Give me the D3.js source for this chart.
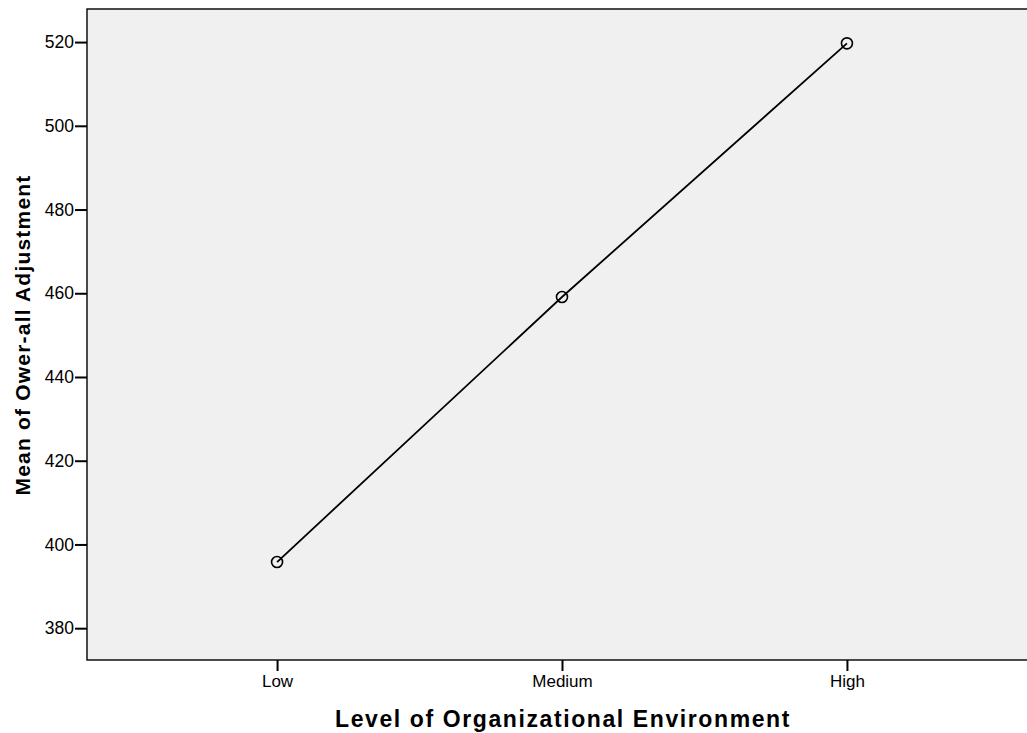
<!DOCTYPE html>
<html>
<head>
<meta charset="utf-8">
<script src="https://cdn.jsdelivr.net/npm/d3@7"></script>
<style>
  body { margin: 0; background: #fff; }
  svg { display: block; font-family: "Liberation Sans", Arial, sans-serif; }
</style>
</head>
<body>
<div id="chart"></div>
<script>
// data
var levels = ["Low", "Medium", "High"];
var means = [395.8, 459.1, 519.7];
var yTicks = [380, 400, 420, 440, 460, 480, 500, 520];

var W = 1027, H = 733;
var plot = {left: 87, top: 9, right: 1037, bottom: 660};

var svg = d3.select("#chart").append("svg")
    .attr("width", W)
    .attr("height", H);

var x_scale = d3.scalePoint()
    .domain(levels)
    .range([plot.left, plot.right])
    .padding(0.667);

var y_scale = d3.scaleLinear()
    .domain([372.4, 527.9])
    .range([plot.bottom, plot.top]);

// plot background
svg.append("rect")
    .attr("x", plot.left)
    .attr("y", plot.top)
    .attr("width", plot.right - plot.left)
    .attr("height", plot.bottom - plot.top)
    .attr("fill", "#f0f0f0")
    .attr("stroke", "#000")
    .attr("stroke-width", 1.4);

// axes
var yAxis = svg.append("g")
    .attr("transform", "translate(" + plot.left + ",0)")
    .call(d3.axisLeft(y_scale).tickValues(yTicks).tickSize(12).tickPadding(1));
yAxis.select(".domain").remove();
yAxis.selectAll(".tick line").attr("stroke-width", 2);
yAxis.selectAll("text").attr("font-size", 17.5).attr("fill", "#000")
    .attr("font-family", "Liberation Sans, Arial, sans-serif");

var xAxis = svg.append("g")
    .attr("transform", "translate(0," + plot.bottom + ")")
    .call(d3.axisBottom(x_scale).tickSize(11).tickPadding(4));
xAxis.select(".domain").remove();
xAxis.selectAll(".tick line").attr("stroke-width", 2);
xAxis.selectAll("text").attr("font-size", 17).attr("fill", "#000")
    .attr("font-family", "Liberation Sans, Arial, sans-serif");

// line + markers
var points = levels.map(function(d, i) { return {level: d, mean: means[i]}; });

var valueline = d3.line()
    .x(function(d) { return x_scale(d.level); })
    .y(function(d) { return y_scale(d.mean); });

svg.append("path")
    .datum(points)
    .attr("fill", "none")
    .attr("stroke", "#000")
    .attr("stroke-width", 1.8)
    .attr("d", valueline);

svg.selectAll(".dot")
    .data(points)
    .enter()
    .append("circle")
    .attr("class", "dot")
    .attr("cx", function(d) { return x_scale(d.level); })
    .attr("cy", function(d) { return y_scale(d.mean); })
    .attr("r", 5.5)
    .attr("fill", "none")
    .attr("stroke", "#000")
    .attr("stroke-width", 1.6);

// titles
svg.append("text")
    .attr("transform", "translate(30,335)rotate(-90)")
    .attr("text-anchor", "middle")
    .attr("font-size", 21)
    .attr("font-weight", "bold")
    .attr("letter-spacing", 1.2)
    .text("Mean of Ower-all Adjustment");

svg.append("text")
    .attr("x", 563)
    .attr("y", 727)
    .attr("text-anchor", "middle")
    .attr("font-size", 23)
    .attr("font-weight", "bold")
    .attr("letter-spacing", 1.6)
    .text("Level of Organizational Environment");
</script>
</body>
</html>
